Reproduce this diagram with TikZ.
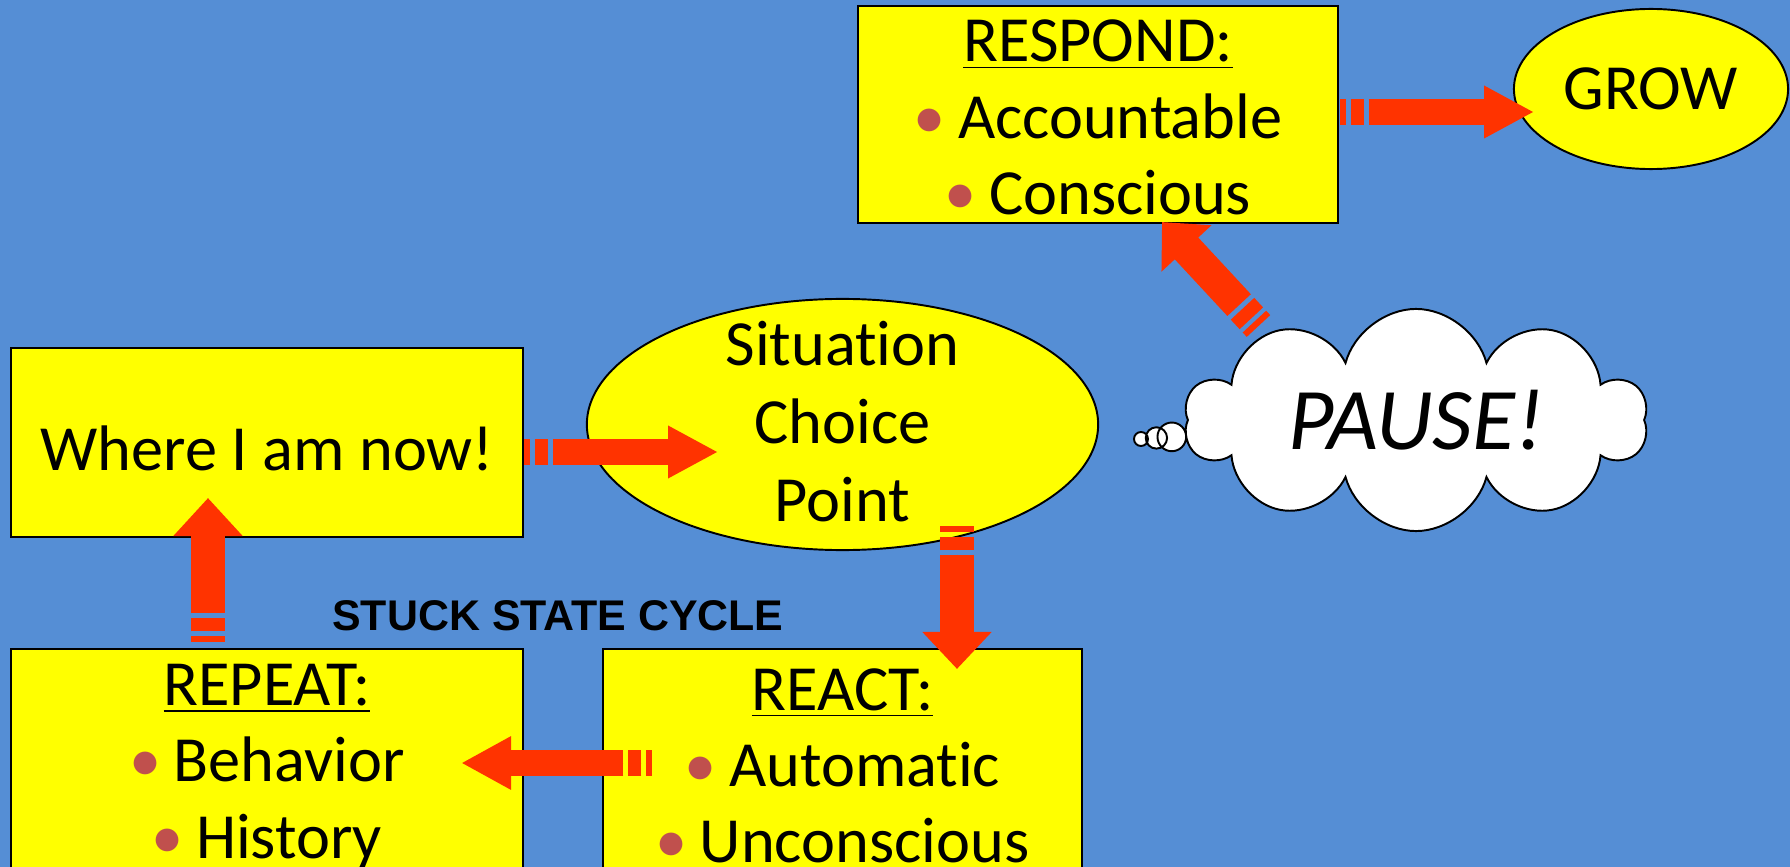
\documentclass[tikz,border=0pt]{standalone}
\usepackage{fontspec}
\setmainfont{Carlito}[Ligatures=NoCommon]
\setsansfont{Liberation Sans}
\usetikzlibrary{arrows.meta,calc,positioning,shapes.geometric,shapes.callouts}

\definecolor{slideblue}{RGB}{85,142,213}
\definecolor{boxyellow}{RGB}{255,255,0}
\definecolor{arrowred}{RGB}{255,51,0}
\definecolor{bulletred}{RGB}{192,80,77}

\newcommand{\bul}{\textcolor{bulletred}{\textbullet}\hspace{0.19em}}
\newcommand{\head}[1]{\rule{0pt}{13.6pt}\underline{#1}}

\tikzset{
  box/.style={rectangle, draw=black, line width=0.55pt, fill=boxyellow, inner sep=0pt,
    align=center, font=\fontsize{18.3}{21.7}\selectfont},
  oval/.style={ellipse, draw=black, line width=0.55pt, fill=boxyellow, inner sep=0pt,
    align=center, font=\fontsize{18.3}{21.7}\selectfont},
  shaft/.style={draw=arrowred, fill=arrowred, line width=#1},
}

% striped block arrow: shaft, head width, head length, tail, tip
\newcommand{\stuckarrow}[5]{%
  \draw[shaft=#1] (#4) -- ($(#4)!0.06cm!(#5)$);
  \draw[shaft=#1] ($(#4)!0.105cm!(#5)$) -- ($(#4)!0.235cm!(#5)$);
  \draw[shaft=#1, -{Triangle[width=#2 0, length=#3 0]}] ($(#4)!0.285cm!(#5)$) -- (#5);
}

\begin{document}
\begin{tikzpicture}[x=0.01cm, y=-0.01cm]
  \useasboundingbox (0,0) rectangle (1790,867);
  \fill[slideblue] (0,0) rectangle (1790,867);
  \clip (0,0) rectangle (1790,867);

  % boxes and ovals
  \node[box, minimum width=4.80cm, minimum height=2.17cm] (respond) at (1098,114.5)
    {\head{RESPOND:}\\ \bul Accountable\\ \bul Conscious};
  \node[oval, minimum width=2.74cm, minimum height=1.60cm] (grow) at (1651,89)
    {\raisebox{-1pt}{GROW}};
  \node[box, minimum width=5.12cm, minimum height=1.89cm, text height=16.2pt] (where)
    at (267,442.5) {Where I am now!};
  \node[oval, minimum width=5.11cm, minimum height=2.51cm,
    label={[align=center, yshift=0.03cm, font=\fontsize{18.3}{22.2}\selectfont]center:Situation\\Choice\\Point}]
    (sit) at (842.5,424.5) {};
  \node[box, minimum width=5.12cm, minimum height=2.28cm] (rep) at (267,763)
    {\head{REPEAT:}\\ \bul Behavior\\ \bul History};
  \node[box, minimum width=4.79cm, minimum height=2.28cm] (react) at (842.5,763)
    {\head{REACT:}\\ \bul Automatic\\ \bul Unconscious};

  % thought cloud
  \node[cloud callout, draw=black, line width=0.55pt, fill=white, cloud puffs=10,
    cloud ignores aspect, minimum width=4.62cm, minimum height=2.22cm, inner sep=0pt,
    callout pointer segments=3,
    callout pointer start size=0.36cm and 0.36cm,
    callout pointer end size=0.14cm and 0.14cm,
    callout absolute pointer={(1141,439)},
    font=\fontsize{25}{28}\selectfont\itshape] (pause) at (1416,420) {PAUSE!};

  \node[font=\sffamily\bfseries\fontsize{12.2}{14}\selectfont] (stuck) at (558,616)
    {STUCK STATE CYCLE};

  % arrows
  \stuckarrow{0.25cm}{0.49cm}{0.50cm}{$(where.east)+(0,9.5)$}{$(where.east)+(194,9.5)$}
  \stuckarrow{0.25cm}{0.49cm}{0.50cm}{$(respond.east)+(1,-2.5)$}{$(respond.east)+(195,-2.5)$}
  \stuckarrow{0.33cm}{0.67cm}{0.37cm}{$(sit.south)+(114.5,-25)$}{$(react.north)+(114.5,21)$}
  \stuckarrow{0.25cm}{0.50cm}{0.50cm}{$(react.west)+(50,0)$}{$(rep.east)+(-63,0)$}
  \stuckarrow{0.34cm}{0.67cm}{0.38cm}{$(rep.north)+(-59,-6)$}{$(where.south)+(-59,-40)$}
  \stuckarrow{0.32cm}{0.66cm}{0.36cm}{$(pause.center)+(-157.5,-94)$}{$(respond.south)+(64,-2)$}
\end{tikzpicture}
\end{document}
